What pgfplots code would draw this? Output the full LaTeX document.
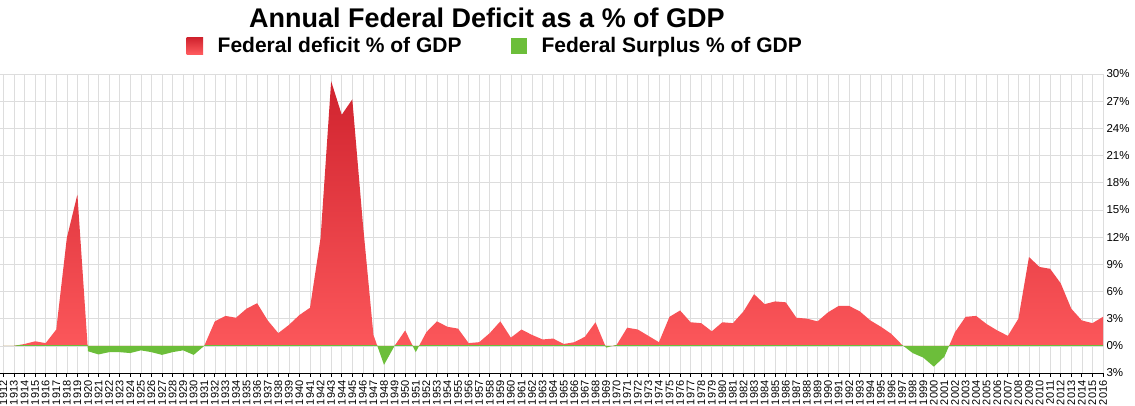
\documentclass[border=0pt]{standalone}
\usepackage{fontspec}
\setmainfont{Liberation Sans}
\usepackage{pgfplots}
\usepackage{pgfplotstable}
\pgfplotsset{compat=1.18}

\definecolor{deftop}{HTML}{D0232E}
\definecolor{defbot}{HTML}{FF5B5E}
\definecolor{surplus}{HTML}{6CBE3A}
\definecolor{gridc}{HTML}{DDDDDD}

% deficit (+) / surplus (-) as % of GDP
\pgfplotstableread{
year val
1912 0.0
1913 0.0
1914 0.2
1915 0.5
1916 0.3
1917 1.8
1918 11.9
1919 16.7
1920 -0.6
1921 -0.95
1922 -0.7
1923 -0.7
1924 -0.8
1925 -0.5
1926 -0.7
1927 -1.0
1928 -0.7
1929 -0.5
1930 -1.0
1931 0.0
1932 2.7
1933 3.3
1934 3.1
1935 4.1
1936 4.7
1937 2.8
1938 1.4
1939 2.3
1940 3.4
1941 4.2
1942 11.9
1943 29.2
1944 25.5
1945 27.2
1946 13.5
1947 1.2
1948 -2.1
1949 0.0
1950 1.7
1951 -0.7
1952 1.5
1953 2.7
1954 2.1
1955 1.9
1956 0.3
1957 0.4
1958 1.4
1959 2.7
1960 0.9
1961 1.8
1962 1.2
1963 0.7
1964 0.8
1965 0.2
1966 0.4
1967 1.0
1968 2.6
1969 -0.2
1970 0.1
1971 2.0
1972 1.8
1973 1.1
1974 0.4
1975 3.2
1976 3.9
1977 2.6
1978 2.5
1979 1.6
1980 2.6
1981 2.5
1982 3.8
1983 5.7
1984 4.6
1985 4.9
1986 4.8
1987 3.1
1988 3.0
1989 2.7
1990 3.7
1991 4.4
1992 4.4
1993 3.8
1994 2.8
1995 2.1
1996 1.3
1997 0.1
1998 -0.8
1999 -1.3
2000 -2.3
2001 -1.2
2002 1.5
2003 3.2
2004 3.3
2005 2.4
2006 1.7
2007 1.1
2008 3.0
2009 9.8
2010 8.7
2011 8.5
2012 6.9
2013 4.1
2014 2.8
2015 2.5
2016 3.2
}\deficit

\pgfplotsset{
  layer/.style={at={(0,0)}, anchor=south west, scale only axis,
    width=1103pt, xmin=1911.68, xmax=2016},
}

\begin{document}
\begin{tikzpicture}
% frame: grid, ticks, labels, title, legend
\begin{axis}[
    layer, height=299pt,
    ymin=-3, ymax=30,
    xtick distance=1,
    ytick={-3,0,...,30},
    yticklabels={3\%,0\%,3\%,6\%,9\%,12\%,15\%,18\%,21\%,24\%,27\%,30\%},
    /pgf/number format/assume math mode=true,
    /pgf/number format/1000 sep={},
    grid=major,
    grid style={gridc, line width=0.6pt},
    axis x line*=bottom,
    axis y line*=right,
    y axis line style={draw=none},
    x axis line style={black, line width=0.8pt, -},
    tick align=outside,
    major tick length=4pt,
    xtick style={black, line width=0.8pt},
    ytick style={draw=none},
    xticklabel style={rotate=90, anchor=east, font=\fontsize{11}{13}\selectfont},
    yticklabel style={font=\fontsize{11.5}{13}\selectfont, anchor=west, xshift=-4pt},
    title={\bfseries Annual Federal Deficit as a \% of GDP},
    title style={at={(0.4415,1.194)}, anchor=center, yshift=-8pt, font=\fontsize{27}{30}\selectfont},
    legend style={at={(0.449,1.094)}, anchor=center, draw=none, fill=none,
        legend columns=2, font=\fontsize{21}{24}\selectfont\bfseries,
        /tikz/every even column/.append style={column sep=47pt}},
    legend cell align=left,
]
\addlegendimage{legend image code/.code={
    \shade[draw=none, top color=deftop, bottom color=defbot] (0pt,-8.3pt) rectangle (16.5pt,8.3pt);
    \path[draw=none] (0pt,0pt) -- (29pt,0pt);}}
\addlegendentry{Federal deficit \% of GDP}
\addlegendimage{legend image code/.code={
    \fill[draw=none, surplus] (0pt,-8.3pt) rectangle (16.5pt,8.3pt);
    \path[draw=none] (0pt,0pt) -- (29pt,0pt);}}
\addlegendentry{Federal Surplus \% of GDP}
\end{axis}

% deficit part: the axis box keeps only y >= 0
\begin{axis}[layer, at={(0,27.18pt)}, height=271.82pt, ymin=0, ymax=30, hide axis]
\addplot[draw=none, top color=deftop, bottom color=defbot] table[x=year, y=val] {\deficit} \closedcycle;
\end{axis}

% surplus part: the axis box keeps only y <= 0
\begin{axis}[layer, height=27.18pt, ymin=-3, ymax=0, hide axis]
\addplot[draw=none, fill=surplus] table[x=year, y=val] {\deficit} \closedcycle;
\end{axis}

\pgfresetboundingbox
\path[use as bounding box] (0,-33pt) rectangle (1135pt,373pt);
\end{tikzpicture}
\end{document}
